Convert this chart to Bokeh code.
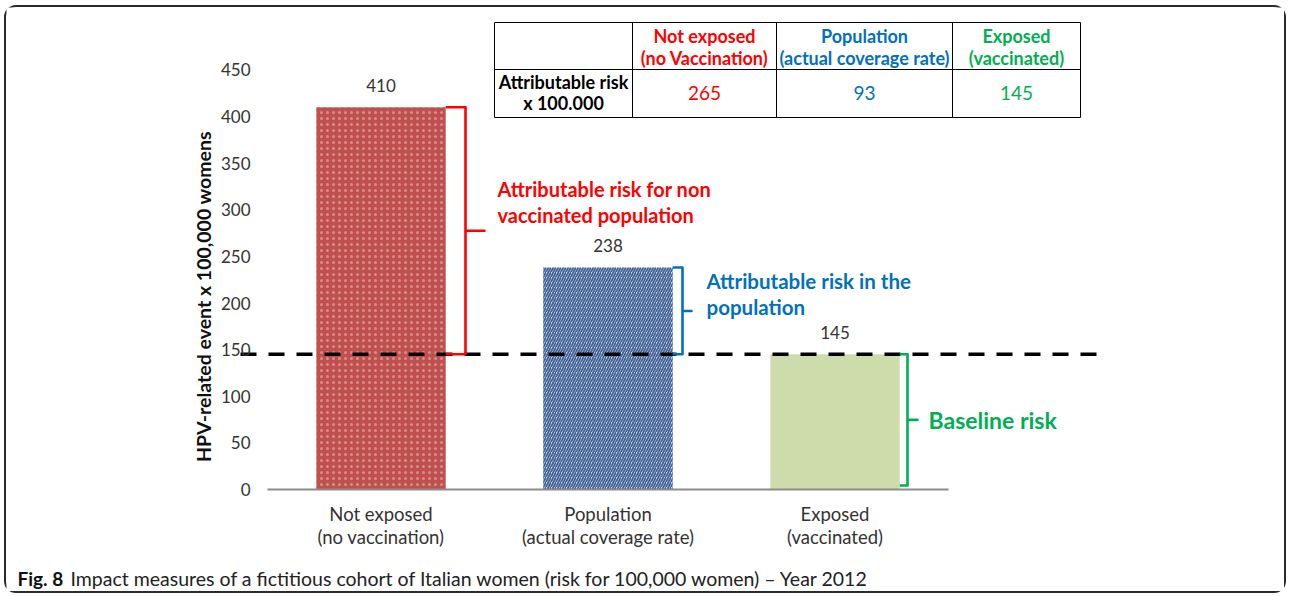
import math
from bokeh.plotting import figure
from bokeh.models import Range1d, FixedTicker
from bokeh.core.properties import value
from bokeh.embed import file_html
from bokeh.resources import INLINE

# ---------------- data ----------------
categories = ["Not exposed\n(no vaccination)", "Population\n(actual coverage rate)", "Exposed\n(vaccinated)"]
rates = [410, 238, 145]
baseline = 145
y_ticks = [0, 50, 100, 150, 200, 250, 300, 350, 400, 450]
table_headers = ["Not exposed\n(no Vaccination)", "Population\n(actual coverage rate)", "Exposed\n(vaccinated)"]
table_row_label = "Attributable risk\nx 100.000"
attributable = [265, 93, 145]
bracket_texts = ["Attributable risk for non\nvaccinated population",
                 "Attributable risk in the\npopulation",
                 "Baseline risk"]
caption_bold = "Fig. 8"
caption_rest = "Impact measures of a fictitious cohort of Italian women (risk for 100,000 women) \u2013 Year 2012"
y_label = "HPV-related event x 100,000 womens"

# ---------------- style / layout ----------------
RED, BLUE, GREEN = "#ff0000", "#0070c0", "#00b050"
TXT = "#333333"
FONT = "Lato"
PAGE_X0, PAGE_Y0 = 6, 7            # content origin on the page (margin + border)
W, H = 1282, 588
AXIS_Y_PX = 489                     # page y of value 0
CAT0_PX, CAT_W = 380.5, 227.0
Y_SCALE = 0.9325                    # px per unit
BAR_W = 0.57


def dx(px):
    return (px - CAT0_PX) / CAT_W


def dy(py):
    return (AXIS_Y_PX - py) / Y_SCALE


p = figure(width=W, height=H,
           x_range=Range1d(dx(PAGE_X0), dx(PAGE_X0 + W)),
           y_range=Range1d(dy(PAGE_Y0 + H), dy(PAGE_Y0)),
           output_backend="svg", toolbar_location=None,
           min_border_left=0, min_border_right=0, min_border_top=0, min_border_bottom=0)
p.styles = {"border": "2px solid #2b2b2b", "border-radius": "12px",
            "margin-left": "4px", "margin-top": "5px"}
p.outline_line_color = None
p.xgrid.visible = False
p.ygrid.visible = False
p.background_fill_color = "white"
p.border_fill_color = "white"

# y axis (labels drawn inside the full-canvas frame)
ya = p.yaxis[0]
ya.ticker = FixedTicker(ticks=y_ticks)
ya.axis_line_color = None
ya.major_tick_line_color = None
ya.minor_tick_line_color = None
ya.major_label_standoff = -250
ya.major_label_text_font = FONT
ya.major_label_text_font_size = "17px"
ya.major_label_text_color = TXT

# x axis
xa = p.xaxis[0]
xa.ticker = FixedTicker(ticks=[0, 1, 2])
xa.major_label_overrides = {i: c for i, c in enumerate(categories)}
xa.axis_line_color = None
xa.major_tick_line_color = None
xa.minor_tick_line_color = None
xa.major_label_standoff = 7 - (PAGE_Y0 + H - AXIS_Y_PX)
xa.major_label_text_font = FONT
xa.major_label_text_font_size = "18.5px"
xa.major_label_text_color = TXT
xa.major_label_text_line_height = 1.05

# bars
p.vbar(x=[0], top=[rates[0]], width=BAR_W, fill_color="#c0504d", line_color=None,
       hatch_pattern=".", hatch_color="white", hatch_alpha=0.35, hatch_scale=6, hatch_weight=0.8)
p.vbar(x=[1], top=[rates[1]], width=BAR_W, fill_color="#d0daea", line_color=None,
       hatch_pattern="/", hatch_color="#3f5f94", hatch_scale=5, hatch_weight=1.7)
p.vbar(x=[2], top=[rates[2]], width=BAR_W, fill_color="#cddcaa", line_color=None)

# x baseline
p.segment(x0=[-0.5], y0=[0], x1=[2.5], y1=[0], line_color="#8c8c8c", line_width=1.8)

# value labels
p.text(x=[0, 1, 2], y=rates, text=[str(r) for r in rates], text_align="center",
       text_baseline="middle", y_offset=-22, text_font=value(FONT),
       text_font_size="17px", text_color=TXT)

# baseline dashed line
p.segment(x0=[dx(240)], y0=[baseline], x1=[dx(1102)], y1=[baseline],
          line_color="black", line_width=3.5, line_dash="16 12")


# brackets
def bracket(x_edge, x_v, x_tick, y0, y1, color):
    ym = (y0 + y1) / 2
    xs = [x_edge, x_v, x_v, x_tick, x_v, x_v, x_edge]
    ys = [y1, y1, ym, ym, ym, y0, y0]
    p.line(xs, ys, line_color=color, line_width=2.6, line_join="round")


bracket(0 + BAR_W / 2, dx(465), dx(484), baseline, rates[0], RED)
bracket(1 + BAR_W / 2, dx(682), dx(691), baseline, rates[1], BLUE)
bracket(2 + BAR_W / 2, dx(907), dx(917), dy(485), baseline, GREEN)


def lines_text(x_px, centers_px, text, color, size, style="bold", align="left", angle=0.0):
    parts = text.split("\n")
    p.text(x=[dx(x_px)] * len(parts), y=[dy(c) for c in centers_px], text=parts,
           text_align=align, text_baseline="middle", text_font=value(FONT),
           text_font_size=size, text_font_style=style, text_color=color, angle=angle)


lines_text(497, [188, 214], bracket_texts[0], RED, "20px")
lines_text(706, [280, 306], bracket_texts[1], BLUE, "20.5px")
lines_text(928, [419], bracket_texts[2], GREEN, "23px")

# table
cols = [494, 632, 776, 952, 1080]
rows = [22, 69, 117]
xs, ys = [], []
for r in rows:
    xs.append([dx(cols[0]), dx(cols[-1])])
    ys.append([dy(r), dy(r)])
for c in cols:
    xs.append([dx(c), dx(c)])
    ys.append([dy(rows[0]), dy(rows[-1])])
p.multi_line(xs, ys, line_color="black", line_width=1)

tcolors = [RED, BLUE, GREEN]
for i in range(3):
    cx = (cols[i + 1] + cols[i + 2]) / 2
    lines_text(cx, [35, 57], table_headers[i], tcolors[i], "18px", align="center")
    lines_text(cx, [92], str(attributable[i]), tcolors[i], "19px", style="normal", align="center")
lines_text((cols[0] + cols[1]) / 2, [81, 102], table_row_label, "black", "18px", align="center")

# y axis title
lines_text(203, [296], y_label, "#111111", "19.5px", align="center", angle=math.pi / 2)

# caption
lines_text(17, [578], caption_bold, "#111111", "19px")
lines_text(70, [578], caption_rest, "#222222", "19.5px", style="normal")

open("out.html", "w").write(file_html(p, INLINE))
